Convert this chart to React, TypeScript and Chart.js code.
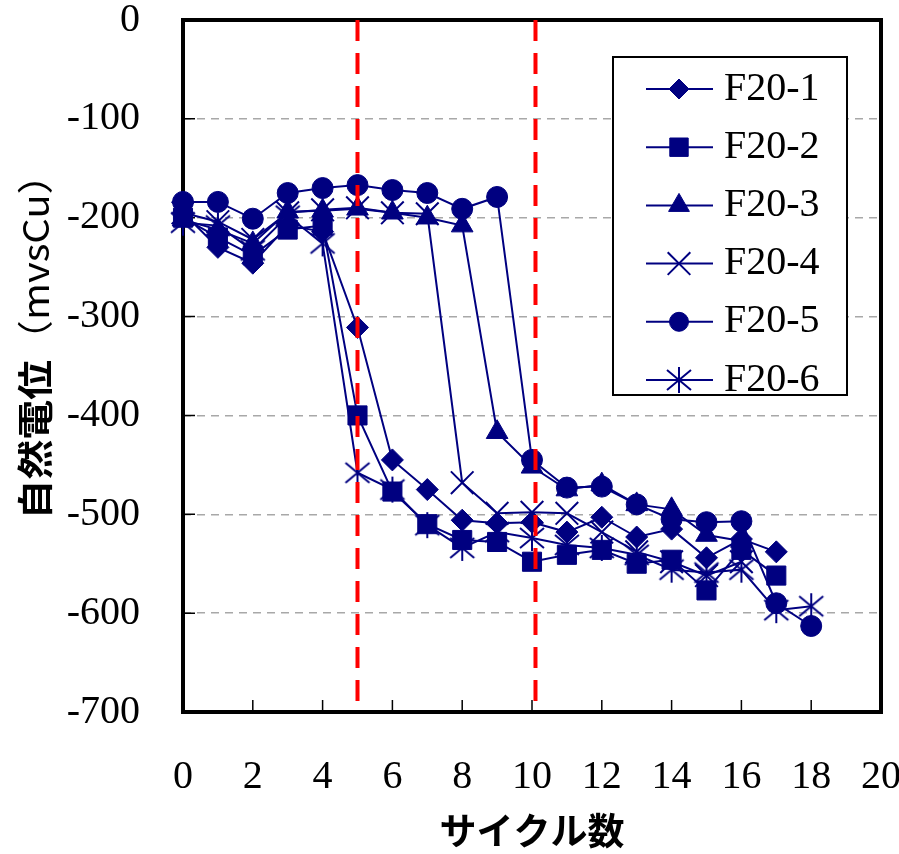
import React, { useEffect, useRef } from 'react';
import { Chart, registerables } from 'chart.js';
import { drawPoint } from 'chart.js/helpers';

Chart.register(...registerables);

// ---- data ----
const cycles = [0, 1, 2, 3, 4, 5, 6, 7, 8, 9, 10, 11, 12, 13, 14, 15, 16, 17, 18];
const seriesNames = ['F20-1', 'F20-2', 'F20-3', 'F20-4', 'F20-5', 'F20-6'];
const f20_1 = [-195, -230, -246, -208, -214, -311, -445, -475, -506, -509, -508, -518, -503, -523, -515, -544, -525, -538];
const f20_2 = [-200, -220, -238, -212, -208, -400, -477, -510, -526, -528, -548, -541, -536, -550, -546, -577, -536, -562];
const f20_3 = [-202, -212, -226, -194, -193, -191, -195, -200, -208, -417, -452, -475, -470, -490, -495, -521, -527];
const f20_4 = [-195, -204, -222, -195, -192, -190, -195, -196, -468, -499, -498, -499, -518, -538, -548, -562, -548];
const f20_5 = [-184, -184, -201, -175, -170, -167, -172, -175, -191, -179, -445, -473, -472, -490, -505, -508, -507, -590, -613];
const f20_6 = [-205, -208, -233, -198, -226, -458, -475, -511, -534, -518, -524, -531, -534, -541, -556, -559, -556, -597, -593];
const seriesValues = [f20_1, f20_2, f20_3, f20_4, f20_5, f20_6];
const markerLines = [5, 10.1];
const xMin = 0, xMax = 20, xStep = 2;
const yMin = -700, yMax = 0, yStep = 100;
const xTitle = 'サイクル数';
const yTitleMain = '自然電位';
const yTitleUnit = '（mvsCu）';

// ---- styles ----
const NAVY = '#000080';
const SERIF = '"Liberation Serif", "Times New Roman", serif';
const CJK = '"Noto Sans CJK JP", "Noto Sans", sans-serif';

function makeAsterisk(): HTMLCanvasElement {
  const c = document.createElement('canvas');
  c.width = 32; c.height = 32;
  const g = c.getContext('2d')!;
  g.strokeStyle = NAVY; g.lineWidth = 2;
  const m = 16;
  g.beginPath();
  g.moveTo(m - 12, m - 10); g.lineTo(m + 12, m + 10);
  g.moveTo(m - 12, m + 10); g.lineTo(m + 12, m - 10);
  g.moveTo(m, m - 13); g.lineTo(m, m + 13);
  g.stroke();
  return c;
}

export default function App() {
  const ref = useRef<HTMLCanvasElement | null>(null);
  useEffect(() => {
    if (!ref.current) return;
    const asterisk = makeAsterisk();
    const markers: any[] = [
      { pointStyle: 'rectRot', radius: 11, borderWidth: 1 },
      { pointStyle: 'rect', radius: 13.5, borderWidth: 1 },
      { pointStyle: 'triangle', radius: 12.5, borderWidth: 1 },
      { pointStyle: 'crossRot', radius: 16, borderWidth: 2 },
      { pointStyle: 'circle', radius: 10.5, borderWidth: 1 },
      { pointStyle: asterisk, radius: 14, borderWidth: 0 },
    ];
    const legendRadius = [10, 13, 12, 16, 9.5, 14];

    const datasets: any[] = seriesNames.map((name, i) => ({
      label: name,
      data: seriesValues[i].map((v, j) => ({ x: cycles[j], y: v })),
      borderColor: NAVY,
      borderWidth: 2,
      backgroundColor: NAVY,
      pointStyle: markers[i].pointStyle,
      pointRadius: markers[i].radius,
      pointBackgroundColor: NAVY,
      pointBorderColor: NAVY,
      pointBorderWidth: markers[i].borderWidth,
      fill: false,
      tension: 0,
      clip: false,
      order: 1,
    }));
    markerLines.forEach((xv) => {
      datasets.push({
        label: '',
        data: [{ x: xv, y: yMax }, { x: xv, y: yMin }],
        borderColor: '#ff0000',
        borderWidth: 4,
        borderDash: [21, 12],
        pointRadius: 0,
        fill: false,
        clip: false,
        order: 0,
      });
    });

    const framePlugin = {
      id: 'frame',
      beforeDatasetsDraw(chart: any) {
        const { ctx, chartArea: a, scales } = chart;
        ctx.save();
        ctx.strokeStyle = '#000';
        ctx.lineWidth = 1.5;
        ctx.beginPath();
        for (let v = yMin + yStep; v < yMax; v += yStep) {
          const py = scales.y.getPixelForValue(v);
          ctx.moveTo(a.left, py); ctx.lineTo(a.left + 12, py);
        }
        for (let v = xMin + xStep; v < xMax; v += xStep) {
          const px = scales.x.getPixelForValue(v);
          ctx.moveTo(px, a.bottom); ctx.lineTo(px, a.bottom - 12);
        }
        ctx.stroke();
        ctx.lineWidth = 4;
        ctx.strokeRect(a.left, a.top, a.right - a.left, a.bottom - a.top);
        ctx.restore();
      },
      afterDraw(chart: any) {
        const { ctx, chartArea: a } = chart;
        ctx.save();
        // x title
        ctx.fillStyle = '#000';
        ctx.font = `bold 37px ${CJK}`;
        ctx.textAlign = 'center';
        ctx.textBaseline = 'middle';
        ctx.fillText(xTitle, (a.left + a.right) / 2, 831);
        // y title
        ctx.save();
        ctx.translate(35, 337);
        ctx.rotate(-Math.PI / 2);
        const f1 = `bold 36px ${CJK}`;
        const f2 = `36px ${CJK}`;
        ctx.font = f1; const w1 = ctx.measureText(yTitleMain).width;
        ctx.font = f2; const w2 = ctx.measureText(yTitleUnit).width;
        const sx = 365 / (w1 + w2);
        ctx.scale(sx, 1);
        ctx.textAlign = 'left';
        const start = -(w1 + w2) / 2;
        ctx.font = f1; ctx.fillText(yTitleMain, start, 0);
        ctx.font = f2; ctx.fillText(yTitleUnit, start + w1, 0);
        ctx.restore();
        // legend
        const bx = 613, by = 57, bw = 234, bh = 338;
        ctx.fillStyle = '#fff';
        ctx.fillRect(bx, by, bw, bh);
        ctx.strokeStyle = '#000';
        ctx.lineWidth = 2;
        ctx.strokeRect(bx, by, bw, bh);
        seriesNames.forEach((name, i) => {
          const ry = 89 + i * 58.2;
          ctx.strokeStyle = NAVY;
          ctx.lineWidth = 2;
          ctx.beginPath();
          ctx.moveTo(646, ry); ctx.lineTo(713, ry);
          ctx.stroke();
          ctx.fillStyle = NAVY;
          ctx.strokeStyle = NAVY;
          ctx.lineWidth = markers[i].borderWidth || 1;
          drawPoint(ctx, { pointStyle: markers[i].pointStyle, radius: legendRadius[i], rotation: 0, borderWidth: markers[i].borderWidth } as any, 679, ry);
          ctx.fillStyle = '#000';
          ctx.font = `40px ${SERIF}`;
          ctx.textAlign = 'left';
          ctx.textBaseline = 'middle';
          ctx.fillText(name, 724, ry);
        });
        ctx.restore();
      },
    };

    const chart = new Chart(ref.current, {
      type: 'line',
      data: { datasets },
      options: {
        responsive: false,
        animation: false,
        events: [],
        layout: { padding: { top: 20, right: 16, left: 0, bottom: 0 } },
        plugins: {
          legend: { display: false },
          tooltip: { enabled: false },
          title: { display: false },
        },
        scales: {
          x: {
            type: 'linear',
            min: xMin,
            max: xMax,
            ticks: {
              stepSize: xStep,
              padding: 41,
              maxRotation: 0,
              autoSkip: false,
              color: '#000',
              font: { family: SERIF, size: 40 },
            },
            grid: { display: false, drawTicks: false },
            border: { display: false },
            afterFit: (s: any) => { s.height = 142; s.paddingLeft = 0; s.paddingRight = 0; },
          },
          y: {
            type: 'linear',
            min: yMin,
            max: yMax,
            ticks: {
              stepSize: yStep,
              padding: 43,
              color: '#000',
              font: { family: SERIF, size: 40 },
            },
            grid: { display: true, drawTicks: false, color: '#a8a8a8', lineWidth: 1.5 },
            border: { display: false, dash: [8, 6] },
            afterFit: (s: any) => { s.width = 183; s.paddingTop = 0; s.paddingBottom = 0; },
          },
        },
      } as any,
      plugins: [framePlugin],
    });
    return () => chart.destroy();
  }, []);

  return (
    <canvas
      ref={ref}
      width={899}
      height={854}
      style={{ position: 'absolute', left: 0, top: 0, width: 899, height: 854 }}
    />
  );
}
